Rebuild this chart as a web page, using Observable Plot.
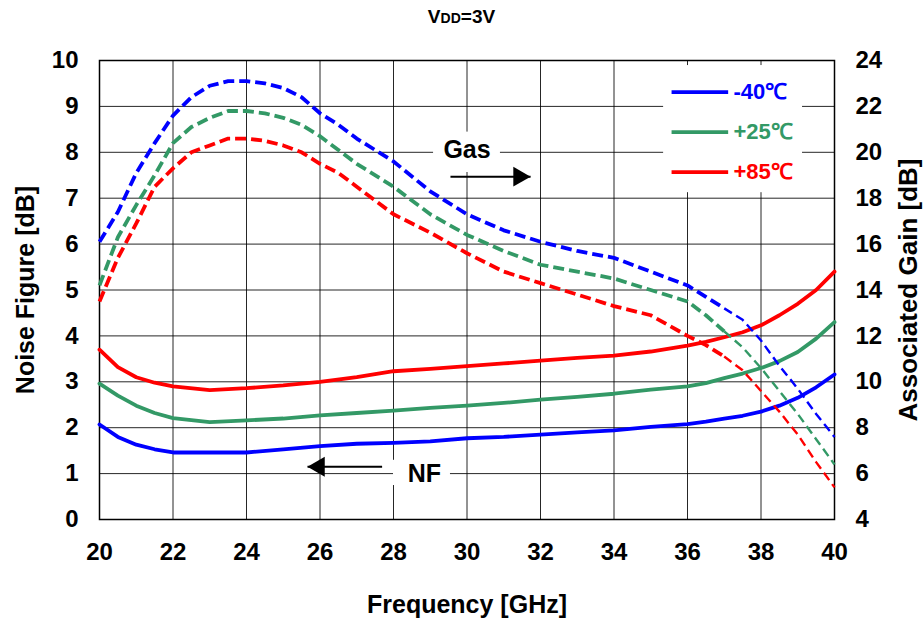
<!DOCTYPE html>
<html>
<head>
<meta charset="utf-8">
<script src="https://cdn.jsdelivr.net/npm/d3@7"></script>
<script src="https://cdn.jsdelivr.net/npm/@observablehq/plot@0.6"></script>
<style>
  body { margin: 0; background: #fff; }
  #title { height: 30px; box-sizing: border-box; padding-top: 6px; text-align: center;
           font-family: "Liberation Sans", Arial, sans-serif; font-weight: bold; font-size: 19px; color: #000; width: 923px; line-height: 22px; }
  #title .sub { font-size: 14px; }
</style>
</head>
<body>
<div id="title">V<span class="sub">DD</span>=3V</div>
<div id="chart"></div>
<script>
// ---- data ----
const seriesNames = ["-40℃", "+25℃", "+85℃"];
const seriesColors = ["#0000ff", "#339966", "#ff0000"];

// Noise figure [dB] (left axis)
const nfFreq = [20,20.5,21,21.5,22,23,24,25,26,27,28,29,30,31,32,33,34,35,36,36.5,37,37.5,38,38.5,39,39.5,40];
const nfM40 = [2.07,1.8,1.63,1.53,1.46,1.46,1.46,1.53,1.6,1.65,1.67,1.7,1.77,1.8,1.85,1.9,1.94,2.02,2.08,2.13,2.2,2.26,2.35,2.48,2.65,2.88,3.16];
const nfP25 = [2.96,2.7,2.48,2.32,2.21,2.12,2.16,2.2,2.27,2.32,2.37,2.43,2.48,2.54,2.61,2.67,2.74,2.83,2.9,2.97,3.08,3.18,3.3,3.45,3.65,3.94,4.3];
const nfP85 = [3.7,3.32,3.1,2.98,2.9,2.82,2.86,2.92,3.0,3.1,3.23,3.28,3.34,3.4,3.46,3.52,3.57,3.66,3.79,3.87,3.97,4.08,4.23,4.45,4.7,5.0,5.4];

// Associated gain [dB] (right axis)
const gaFreq = [20,20.5,21,21.5,22,22.5,23,23.5,24,24.5,25,25.5,26,26.5,27,28,29,30,31,32,33,34,35,36,36.5,37,37.5,38,38.5,39,39.5,40];
const gaM40 = [16.1,17.4,19.1,20.4,21.6,22.4,22.9,23.1,23.1,23.0,22.8,22.4,21.7,21.2,20.6,19.6,18.3,17.3,16.6,16.1,15.7,15.4,14.8,14.2,13.7,13.2,12.7,11.8,10.7,9.7,8.6,7.6];
const gaP25 = [14.2,16.3,17.7,19.0,20.4,21.1,21.5,21.8,21.8,21.7,21.5,21.2,20.7,20.1,19.5,18.5,17.3,16.4,15.7,15.1,14.8,14.5,14.0,13.5,12.9,12.2,11.5,10.6,9.6,8.6,7.5,6.4];
const gaP85 = [13.5,15.4,16.9,18.5,19.3,20.0,20.3,20.6,20.6,20.5,20.3,20.0,19.5,19.1,18.5,17.3,16.5,15.6,14.8,14.3,13.8,13.3,12.9,12.0,11.6,11.1,10.5,9.6,8.7,7.7,6.5,5.4];

// ticks
const xTicks = [20,22,24,26,28,30,32,34,36,38,40];
const nfTicks = [0,1,2,3,4,5,6,7,8,9,10];
const gainTickLabels = ["4","6","8","10","12","14","16","18","20","22","24"];
const gainMin = 4, gainPerNF = 2;

// annotations
const legendItems = [
  {name: "-40℃", x1: 35.58, x2: 37.12, y: 9.31, tx: 37.25},
  {name: "+25℃", x1: 35.58, x2: 37.12, y: 8.44, tx: 37.25},
  {name: "+85℃", x1: 35.58, x2: 37.12, y: 7.57, tx: 37.25}
];
const whiteBoxes = [
  {x1: 35.35, x2: 39.13, y1: 7.12, y2: 9.89},
  {x1: 29.09, x2: 30.91, y1: 7.56, y2: 8.44},
  {x1: 28.0, x2: 29.55, y1: 0.74, y2: 1.29}
];
const labels = [
  {text: "Gas", x: 30.0, y: 8.04},
  {text: "NF", x: 28.84, y: 1.0}
];
const arrowRight = [{x1: 29.55, x2: 31.73, y: 7.47}];
const arrowLeft = [{x1: 27.69, x2: 25.66, y: 1.15}];

// ---- tables ----
const nfRows = [];
[nfM40, nfP25, nfP85].forEach((arr, k) => arr.forEach((v, i) => nfRows.push({f: nfFreq[i], v, s: seriesNames[k]})));
const gaRows = [];
[gaM40, gaP25, gaP85].forEach((arr, k) => arr.forEach((g, i) => gaRows.push({f: gaFreq[i], g, s: seriesNames[k]})));
const toNF = d => (d.g - gainMin) / gainPerNF;
const split = 37;

const chart = Plot.plot({
  width: 923,
  height: 591,
  marginTop: 30,
  marginBottom: 102,
  marginLeft: 99,
  marginRight: 89,
  style: {fontFamily: "'Liberation Sans', Arial, sans-serif", fontSize: "24px", fontWeight: "bold", color: "#000", background: "#fff"},
  x: {domain: [20, 40]},
  y: {domain: [0, 10]},
  color: {domain: seriesNames, range: seriesColors},
  marks: [
    Plot.ruleX(xTicks, {stroke: "#000", strokeWidth: 1, strokeOpacity: 0.85}),
    Plot.ruleY(nfTicks, {stroke: "#000", strokeWidth: 1, strokeOpacity: 0.85}),
    Plot.rect(whiteBoxes, {x1: "x1", x2: "x2", y1: "y1", y2: "y2", fill: "#fff"}),
    Plot.frame({stroke: "#000", strokeWidth: 1.5}),
    Plot.axisX(xTicks, {tickSize: 0, tickPadding: 23, fontSize: 24, fontWeight: "bold", label: null}),
    Plot.axisY(nfTicks, {anchor: "left", tickSize: 0, tickPadding: 21, fontSize: 24, fontWeight: "bold", label: null}),
    Plot.axisY(nfTicks, {anchor: "right", tickSize: 0, tickPadding: 21, fontSize: 24, fontWeight: "bold", label: null,
      tickFormat: d => gainTickLabels[nfTicks.indexOf(d)]}),
    Plot.text(["Frequency [GHz]"], {frameAnchor: "bottom", dy: 85, textAnchor: "middle", lineAnchor: "middle", fontSize: 25, fontWeight: "bold"}),
    Plot.text(["Noise Figure [dB]"], {frameAnchor: "left", dx: -74, rotate: -90, textAnchor: "middle", lineAnchor: "middle", fontSize: 25, fontWeight: "bold"}),
    Plot.text(["Associated Gain [dB]"], {frameAnchor: "right", dx: 74, rotate: -90, textAnchor: "middle", lineAnchor: "middle", fontSize: 26, fontWeight: "bold"}),
    // NF solid lines
    Plot.line(nfRows, {x: "f", y: "v", z: "s", stroke: "s", strokeWidth: 3.8}),
    // Gain dashed lines
    Plot.line(gaRows.filter(d => d.f <= split), {x: "f", y: toNF, z: "s", stroke: "s", strokeWidth: 3.8, strokeDasharray: "11,5", strokeLinecap: "butt"}),
    Plot.line(gaRows.filter(d => d.f >= split), {x: "f", y: toNF, z: "s", stroke: "s", strokeWidth: 2.4, strokeDasharray: "9,5", strokeLinecap: "butt"}),
    // legend
    Plot.ruleY(legendItems, {y: "y", x1: "x1", x2: "x2", stroke: "name", strokeWidth: 3.8}),
    Plot.text(legendItems, {x: "tx", y: "y", text: "name", fill: "name", textAnchor: "start", fontSize: 22, fontWeight: "bold"}),
    // annotations
    Plot.text(labels, {x: "x", y: "y", text: "text", fontSize: 25, fontWeight: "bold", fill: "#000"}),
    Plot.link(arrowRight, {x1: "x1", x2: "x2", y1: "y", y2: "y", stroke: "#000", strokeWidth: 2}),
    Plot.dot(arrowRight, {x: "x2", y: "y", symbol: "triangle", r: 7.4, fill: "#000", stroke: null, rotate: 90, dx: -11.5}),
    Plot.link(arrowLeft, {x1: "x1", x2: "x2", y1: "y", y2: "y", stroke: "#000", strokeWidth: 2}),
    Plot.dot(arrowLeft, {x: "x2", y: "y", symbol: "triangle", r: 7.4, fill: "#000", stroke: null, rotate: -90, dx: 11.5})
  ]
});
document.getElementById("chart").appendChild(chart);
</script>
</body>
</html>
